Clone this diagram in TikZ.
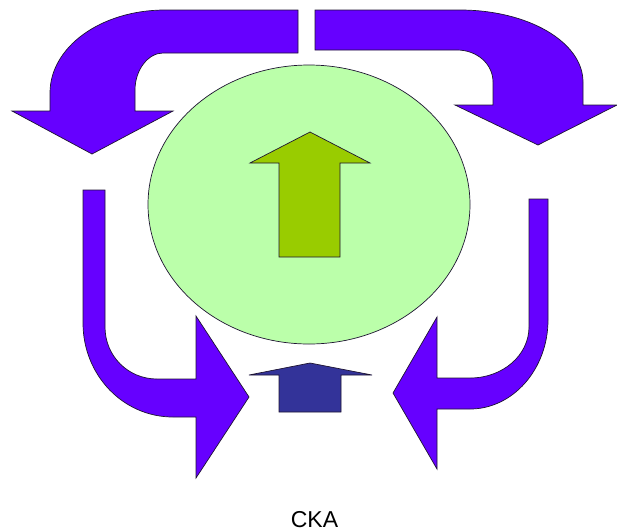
\documentclass[tikz,border=0pt]{standalone}
\usepackage{fontspec}
\setmainfont{Liberation Sans}
\usetikzlibrary{shapes.geometric}
\definecolor{purp}{RGB}{102,0,255}
\definecolor{lgreen}{RGB}{187,255,170}
\definecolor{agreen}{RGB}{153,204,0}
\definecolor{dblue}{RGB}{51,51,153}
\definecolor{edge}{RGB}{30,20,50}
\tikzset{
  shapeline/.style={draw=edge, line width=0.7pt, line join=miter},
  bentarrow/.style={shapeline, fill=purp},
}
\begin{document}
\begin{tikzpicture}[x=1pt,y=-1pt]
\useasboundingbox (0,0) rectangle (617,531);
% central ellipse
\node[shapeline, fill=lgreen, ellipse, minimum width=322pt, minimum height=279pt, inner sep=0pt] (cell) at (309,204.5) {};
% green up arrow
\draw[shapeline, fill=agreen] (279,257) -- (279,163) -- (250,163) -- (310,132) -- (370,163) -- (340,163) -- (340,257) -- cycle;
% small blue up arrow
\draw[shapeline, fill=dblue] (279,412) -- (279,375) -- (249,375) -- (310,363) -- (372,375) -- (341,375) -- (341,412) -- cycle;
% top-left bent arrow
\draw[bentarrow] (298,10) -- (165,10) .. controls (101,10) and (50,47) .. (50,93) -- (50,111) -- (12,111) -- (92,154) -- (173,111) -- (135,111) -- (135,90) .. controls (135,70) and (148,53) .. (163,53) -- (298,53) -- cycle;
% top-right bent arrow
\draw[bentarrow] (315,10) -- (460,10) .. controls (528,10) and (583,42) .. (583,82) -- (583,105) -- (617,105) -- (538,145) -- (455,105) -- (493,105) -- (493,82) .. controls (493,64) and (477,50) .. (457,50) -- (315,50) -- cycle;
% bottom-left bent arrow
\draw[bentarrow] (83,190) -- (105,190) -- (105,327) .. controls (105,356) and (128,379) .. (157,379) -- (196,379) -- (196,316) -- (249,397) -- (196,478) -- (196,417) -- (173,417) .. controls (123,417) and (83,375) .. (83,323) -- cycle;
% bottom-right bent arrow
\draw[bentarrow] (529,199) -- (548,199) -- (548,320) .. controls (548,369) and (513,409) .. (470,409) -- (437,409) -- (437,469) -- (393,393) -- (437,317) -- (437,378) -- (470,378) .. controls (503,378) and (529,355) .. (529,327) -- cycle;
% label
\node[anchor=center, inner sep=0pt, font=\fontsize{23}{27}\selectfont] (lbl) at (314.5,519.5) {CKA};
\end{tikzpicture}
\end{document}
